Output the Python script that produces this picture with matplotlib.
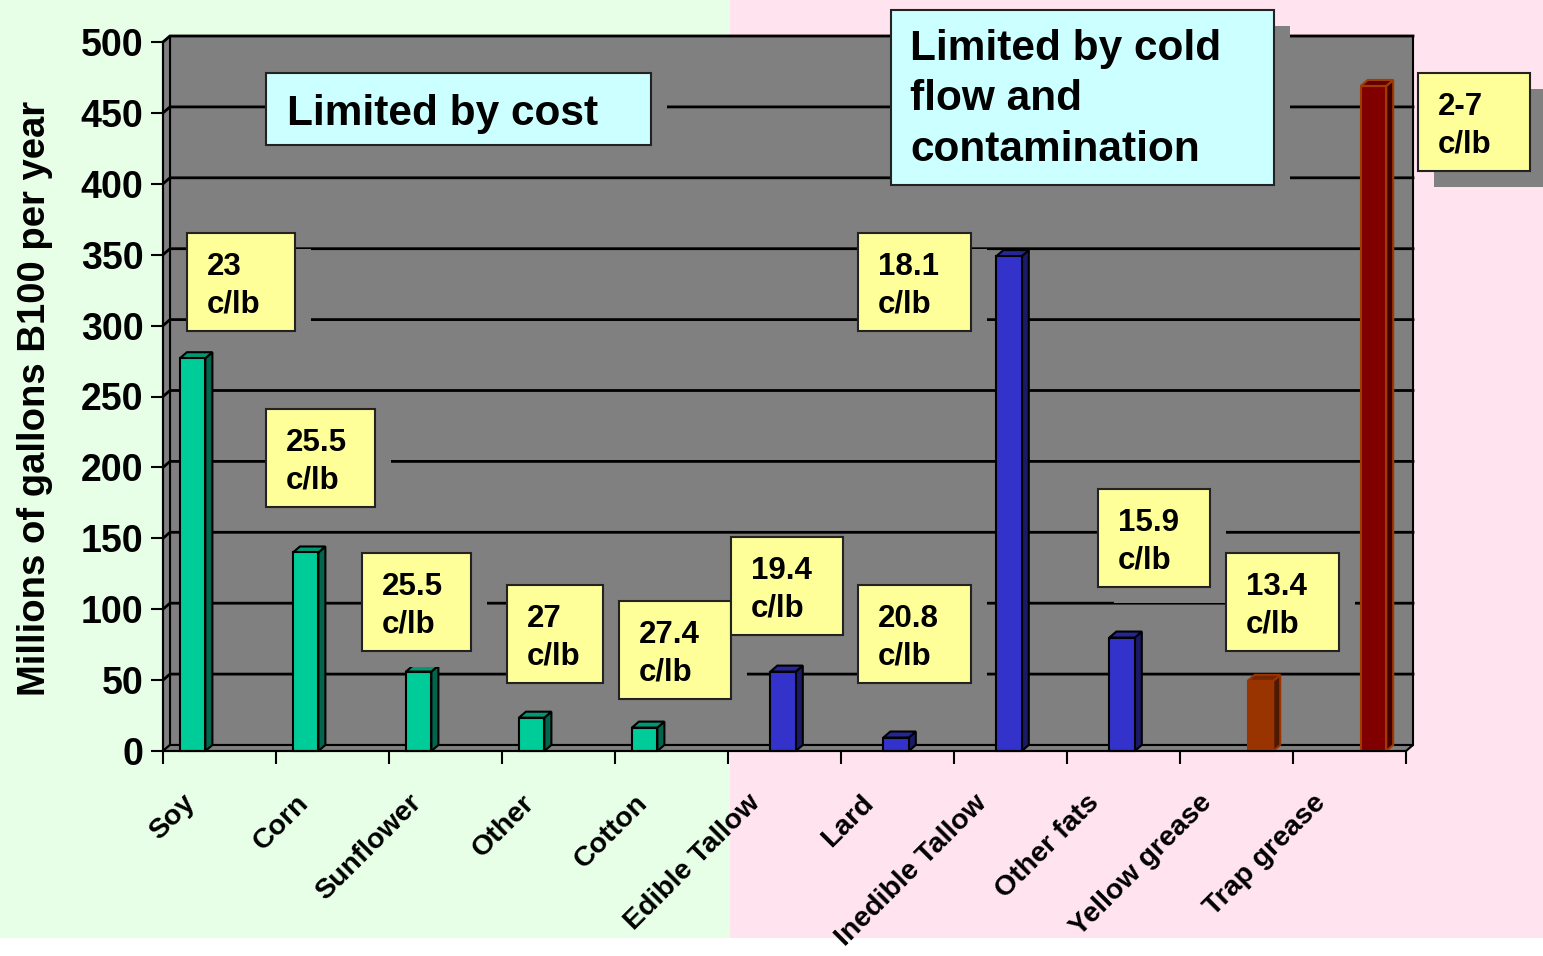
import numpy as np
import matplotlib
matplotlib.use("Agg")
import matplotlib.pyplot as plt
from matplotlib.patches import Rectangle, Polygon
from matplotlib.colors import to_rgb

# data
categories = ["Soy", "Corn", "Sunflower", "Other", "Cotton", "Edible Tallow",
              "Lard", "Inedible Tallow", "Other fats", "Yellow grease", "Trap grease"]
volumes = [277, 140, 56, 23.5, 16.5, 56, 9.5, 349, 80, 49.5, 469]
series = [0, 0, 0, 0, 0, 1, 1, 1, 1, 2, 2]
bar_colors = ["#00CC99"] * 5 + ["#3333CC"] * 4 + ["#993300", "#800000"]
edge_colors = ["black"] * 9 + ["#993300", "#A33A00"]
yticks = [0, 50, 100, 150, 200, 250, 300, 350, 400, 450, 500]

prices = ["23\nc/lb", "25.5\nc/lb", "25.5\nc/lb", "27\nc/lb", "27.4\nc/lb",
          "19.4\nc/lb", "18.1\nc/lb", "20.8\nc/lb", "15.9\nc/lb", "13.4\nc/lb", "2-7\nc/lb"]
# price box placement in figure pixels: left, top, right, bottom
price_boxes = [(187, 233, 295, 331), (266, 409, 375, 507), (362, 553, 471, 651),
               (507, 585, 603, 683), (619, 601, 731, 699), (731, 537, 843, 635),
               (858, 233, 971, 331), (858, 585, 971, 683), (1098, 489, 1210, 587),
               (1226, 553, 1339, 651), (1418, 73, 1530, 171)]

W, H = 1543, 956
FONT = "Liberation Sans"
plt.rcParams['font.family'] = [FONT, "DejaVu Sans"]

fig = plt.figure(figsize=(W / 100, H / 100), dpi=100)
fig.patch.set_facecolor("white")


def fig_rect(x0, y0, x1, y1, **kw):
    r = Rectangle((x0 / W, 1 - y1 / H), (x1 - x0) / W, (y1 - y0) / H,
                  transform=fig.transFigure, **kw)
    fig.add_artist(r)
    return r


# split background
fig_rect(0, 0, 730, 938, facecolor="#E6FFE6", edgecolor="none", zorder=-10)
fig_rect(730, 0, W, 938, facecolor="#FFE3EF", edgecolor="none", zorder=-10)

ax = fig.add_axes([163 / W, 1 - 751 / H, 1243 / W, 709 / H])
ax.patch.set_visible(False)
ax.set_xlim(0, 11)
ax.set_ylim(0, 500)

# 3d depth in data units
dx = 7 * 11 / 1243
dy = 6 * 500 / 709
gray = "#808080"

ax.add_patch(Rectangle((dx, dy), 11, 500, facecolor=gray, edgecolor="black",
                       linewidth=1.5, zorder=0.5, clip_on=False))
ax.add_patch(Polygon([(0, 0), (dx, dy), (dx, 500 + dy), (0, 500)], closed=True,
                     facecolor=gray, edgecolor="black", linewidth=1.5, zorder=0.6, clip_on=False))
ax.add_patch(Polygon([(0, 0), (11, 0), (11 + dx, dy), (dx, dy)], closed=True,
                     facecolor=gray, edgecolor="black", linewidth=1.5, zorder=0.6, clip_on=False))
for t in yticks[1:]:
    ax.plot([0, dx, 11 + dx], [t, t + dy, t + dy], color="black", lw=2,
            zorder=0.7, clip_on=False, solid_joinstyle="miter")

# bars
bw = 0.225
xs = np.arange(len(categories)) + 0.15 + np.array(series) * bw
ax.bar(xs, volumes, width=bw, align="edge", color=bar_colors,
       edgecolor=edge_colors, linewidth=1.5, zorder=3, clip_on=False)
for x, v, c, ec in zip(xs, volumes, bar_colors, edge_colors):
    rgb = np.array(to_rgb(c))
    side = Polygon([(x + bw, 0), (x + bw + dx, dy), (x + bw + dx, v + dy), (x + bw, v)],
                   closed=True, facecolor=rgb * 0.5, edgecolor=ec, linewidth=1.5,
                   zorder=2.9, clip_on=False)
    top = Polygon([(x, v), (x + dx, v + dy), (x + bw + dx, v + dy), (x + bw, v)],
                  closed=True, facecolor=rgb * 0.75, edgecolor=ec, linewidth=1.5,
                  zorder=2.9, clip_on=False)
    ax.add_patch(side)
    ax.add_patch(top)

for s in ["top", "right"]:
    ax.spines[s].set_visible(False)
for s in ["left", "bottom"]:
    ax.spines[s].set_linewidth(1.5)
    ax.spines[s].set_zorder(4)

ax.set_yticks(yticks)
ax.set_yticklabels([str(t) for t in yticks], fontsize=27, fontweight="bold")
ax.tick_params(axis="y", length=9, width=1.5, pad=5)
ax.set_xticks(range(12))
ax.set_xticklabels([])
ax.tick_params(axis="x", length=9, width=1.5)

for i, lab in enumerate(categories):
    ax.annotate(lab, xy=(i + 0.5, 0), xytext=(-28, -48), textcoords="offset pixels",
                ha="right", va="center", rotation=45, rotation_mode="anchor",
                fontsize=20.5, fontweight="bold", annotation_clip=False)

fig.text(35 / W, 1 - 398 / H, "Millions of gallons B100 per year", rotation=90,
         ha="center", va="center", fontsize=27.5, fontweight="bold")


def callout(x0, y0, x1, y1, fc, text, size, pad, spacing, yshift=0):
    fig_rect(x0 + 16, y0 + 16, x1 + 16, y1 + 16, facecolor=gray, edgecolor="none", zorder=5)
    fig_rect(x0, y0, x1, y1, facecolor=fc, edgecolor="#222222", linewidth=1.5, zorder=6)
    fig.text((x0 + pad) / W, 1 - ((y0 + y1) / 2 + yshift) / H, text, ha="left", va="center",
             fontsize=size, fontweight="bold", linespacing=spacing, zorder=7)


callout(266, 73, 651, 145, "#CCFFFF", "Limited by cost", 30.5, 21, 1.2, yshift=5)
callout(891, 10, 1274, 185, "#CCFFFF", "Limited by cold\nflow and\ncontamination",
        30.5, 19, 1.33, yshift=2)
for (x0, y0, x1, y1), txt in zip(price_boxes, prices):
    callout(x0, y0, x1, y1, "#FFFF99", txt, 22.5, 20, 1.33, yshift=4)

fig.savefig("out.png", dpi=100)
